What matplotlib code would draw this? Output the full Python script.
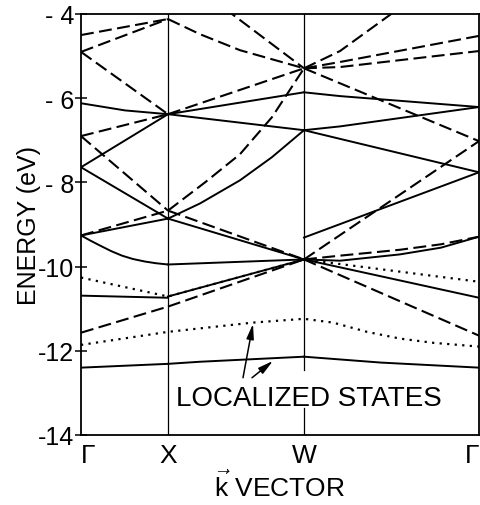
import matplotlib
matplotlib.use('Agg')
import matplotlib.pyplot as plt

plt.rcParams['font.family'] = ['Liberation Sans', 'DejaVu Sans']
plt.rcParams['mathtext.fontset'] = 'custom'
plt.rcParams['mathtext.rm'] = 'Liberation Sans'
plt.rcParams['mathtext.it'] = 'Liberation Sans'

# symmetry points along k (same spacing as the original drawing)
k_pos = [0.0, 0.87, 2.23, 3.98]
k_labels = ['Γ', 'X', 'W', 'Γ']
G, X, W, G2 = k_pos

e_ticks = [-4, -6, -8, -10, -12, -14]
e_labels = ['- 4', '- 6', '- 8', '-10', '-12', '-14']

# solid bands: (k points, energies in eV)
solid_bands = [
    ([G, 0.44, X], [-6.12, -6.29, -6.38]),
    ([G, X], [-7.64, -6.38]),
    ([G, X], [-7.64, -8.86]),
    ([G, X], [-9.26, -8.86]),
    ([G, 0.10, 0.19, 0.30, 0.41, 0.52, 0.64, 0.75, X],
     [-9.26, -9.39, -9.50, -9.63, -9.74, -9.82, -9.88, -9.92, -9.95]),
    ([G, X], [-10.69, -10.74]),
    ([G, X], [-12.40, -12.31]),
    ([X, W], [-6.38, -5.86]),
    ([X, W], [-6.38, -6.76]),
    ([X, 1.19, 1.59, 1.91, W], [-8.86, -8.50, -7.95, -7.40, -6.76]),
    ([X, W], [-8.86, -9.83]),
    ([X, W], [-9.95, -9.83]),
    ([X, W], [-10.71, -9.83]),
    ([X, 1.19, W], [-12.31, -12.26, -12.14]),
    ([W, 2.59, G2], [-5.86, -5.95, -6.21]),
    ([W, 2.59, G2], [-6.76, -6.67, -6.21]),
    ([W, G2], [-6.76, -7.76]),
    ([W, G2], [-9.31, -7.76]),
    ([W, 2.59, 3.19, 3.6, G2], [-9.83, -9.86, -9.71, -9.55, -9.29]),
    ([W, G2], [-9.83, -10.74]),
    ([W, 3.0, G2], [-12.14, -12.28, -12.40]),
]

# dashed bands
dashed_bands = [
    ([G, X], [-4.50, -4.12]),
    ([G, X], [-4.90, -4.12]),
    ([G, X], [-4.90, -6.38]),
    ([G, X], [-6.90, -6.38]),
    ([G, X], [-6.90, -8.67]),
    ([G, X], [-9.26, -8.67]),
    ([G, X], [-11.57, -10.95]),
    ([X, 1.19, 1.59, W], [-4.12, -4.48, -4.86, -5.29]),
    ([X, 1.51, W], [-3.00, -4.00, -5.29]),
    ([X, W], [-6.38, -5.29]),
    ([X, 1.24, 1.59, 1.91, W], [-8.67, -8.00, -7.33, -6.45, -5.29]),
    ([X, W], [-8.67, -9.83]),
    ([X, W], [-10.95, -9.83]),
    ([W, 2.59, 3.09, 3.5, G2], [-5.29, -4.88, -4.02, -3.20, -2.30]),
    ([W, 2.59, G2], [-5.29, -5.14, -4.52]),
    ([W, 2.59, G2], [-5.29, -5.26, -4.88]),
    ([W, G2], [-5.29, -7.02]),
    ([W, G2], [-9.83, -7.02]),
    ([W, 2.59, 3.19, 3.6, G2], [-9.83, -9.74, -9.60, -9.47, -9.29]),
    ([W, G2], [-9.83, -11.64]),
]

# dotted bands
dotted_bands = [
    ([G, X, W, G2], [-10.26, -10.71, -9.83, -10.36]),
    ([G, X, 1.72, W, 2.52, 2.86, 3.19, 3.52, G2],
     [-11.86, -11.55, -11.33, -11.24, -11.33, -11.55, -11.71, -11.81, -11.90]),
]

fig = plt.figure(figsize=(4.8, 5.06), dpi=100)
ax = fig.add_axes([81 / 480, 1 - 436 / 506, 398 / 480, 421 / 506])

# vertical lines at X and W (W broken by the label)
ax.plot([X, X], [-14, -4], color='k', lw=0.9)
ax.plot([W, W], [-4, -12.45], color='k', lw=0.9)
ax.plot([W, W], [-13.36, -14], color='k', lw=0.9)

for kk, ee in solid_bands:
    ax.plot(kk, ee, color='k', lw=1.4)
for kk, ee in dashed_bands:
    ax.plot(kk, ee, color='k', lw=1.5, dashes=(6.2, 2.6))
for kk, ee in dotted_bands:
    ax.plot(kk, ee, color='k', lw=1.6, dashes=(1, 2.4))

ax.text(2.28, -13.29, 'LOCALIZED STATES', fontsize=20, ha='center', va='baseline')
ax.annotate('', xy=(1.72, -11.36), xytext=(1.62, -12.64),
            arrowprops=dict(arrowstyle='-|>,head_length=0.9,head_width=0.22',
                            color='k', lw=1.1, shrinkA=0, shrinkB=0))
ax.annotate('', xy=(1.92, -12.24), xytext=(1.71, -12.64),
            arrowprops=dict(arrowstyle='-|>,head_length=0.9,head_width=0.22',
                            color='k', lw=1.1, shrinkA=0, shrinkB=0))

ax.set_xlim(G, G2)
ax.set_ylim(-14, -4)
ax.set_yticks(e_ticks)
ax.set_yticklabels(e_labels, fontsize=18)
ax.set_xticks(k_pos)
ax.set_xticklabels(k_labels, fontsize=19)
xl = ax.get_xticklabels()
xl[0].set_ha('left')
xl[-1].set_ha('right')
ax.tick_params(axis='y', direction='inout', length=8, width=1.1, pad=1)
ax.tick_params(axis='x', length=0, pad=6)
for s in ax.spines.values():
    s.set_linewidth(1.3)

ax.set_ylabel('ENERGY (eV)', fontsize=18, labelpad=-2)
ax.set_xlabel(r'$\vec{\mathrm{k}}$ VECTOR', fontsize=19, labelpad=2)

fig.savefig('out.png', dpi=100)
